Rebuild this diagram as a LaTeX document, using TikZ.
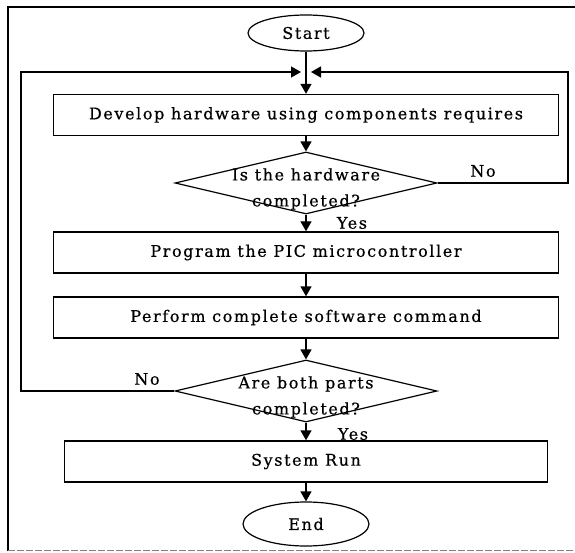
\documentclass[tikz,border=0pt]{standalone}
\usepackage{fontspec}
\setmainfont{DejaVu Serif}[LetterSpace=10, FakeBold=0.6]
\usetikzlibrary{shapes.geometric,arrows.meta}
\begin{document}
\begin{tikzpicture}[x=1pt,y=-1pt,
  txt/.style={font=\fontsize{16}{26}\selectfont},
  flow/.style={line width=1.4pt, -{Triangle[length=10pt,width=11pt]}},
  stepbox/.style={draw, line width=1.4pt, minimum height=41pt, inner sep=0pt, txt},
  terminal/.style={draw, ellipse, line width=1.2pt, inner sep=0pt, txt},
  decision/.style={draw, diamond, line width=1.2pt, inner sep=0pt, aspect=4.2,
    minimum width=262pt, minimum height=62pt},
  lbl/.style={inner sep=0pt, txt}]

\useasboundingbox (0,0) rectangle (575,553);

% outer frame
\draw[line width=1.1pt] (8,551) -- (8,7) -- (575,7);
\draw[gray, line width=0.8pt, dash pattern=on 7pt off 2pt] (8,550) -- (575,550);

% flow elements, all centred on x = 306
\node[terminal, minimum width=116pt, minimum height=36pt] (start) at (306,33) {Start};
\node[stepbox, minimum width=505pt] (hw) at (306,115) {Develop hardware using components requires};
\node[decision] (q1) at (306,183) {};
\node[lbl, align=center] (q1t) at (306,189) {Is the hardware\\completed?};
\node[stepbox, minimum width=505pt] (pic) at (306,252.5) {Program the PIC microcontroller};
\node[stepbox, minimum width=505pt] (sw) at (306,317.5) {Perform complete software command};
\node[decision] (q2) at (306,391) {};
\node[lbl, align=center] (q2t) at (306,397) {Are both parts\\completed?};
\node[stepbox, minimum width=483pt] (run) at (306,461.5) {System Run};
\node[terminal, minimum width=126pt, minimum height=44pt] (end) at (306,524) {End};

% join points of the feedback loops
\coordinate (jl) at (301,72);
\coordinate (jr) at (311,72);
\coordinate (cl) at (21,72);
\coordinate (cr) at (568,72);

% main flow
\draw[flow] (start.south) -- (hw.north);
\draw[flow] (hw.south) -- (q1.north);
\draw[flow] (q1.south) -- (pic.north);
\draw[flow] (pic.south) -- (sw.north);
\draw[flow] (sw.south) -- (q2.north);
\draw[flow] (q2.south) -- (run.north);
\draw[flow] (run.south) -- (end.north);

% feedback loops
\draw[flow] (q1.east) -- (q1.east -| cr) -- (cr) -- (jr);
\draw[flow] (q2.west) -- (q2.west -| cl) -- (cl) -- (jl);

% branch labels
\node[lbl] (no1) at (483,171) {No};
\node[lbl] (yes1) at (352,223) {Yes};
\node[lbl] (no2) at (147,379) {No};
\node[lbl] (yes2) at (353,434) {Yes};
\end{tikzpicture}
\end{document}
